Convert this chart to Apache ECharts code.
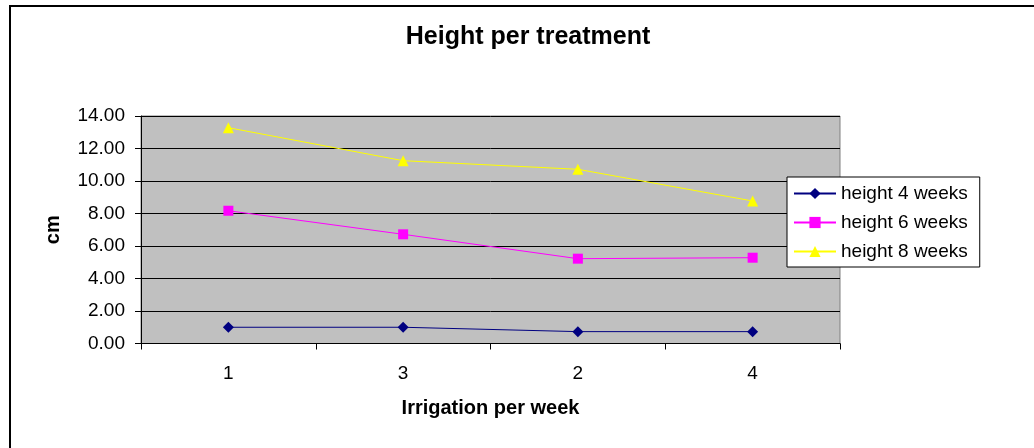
<!DOCTYPE html>
<html>
<head>
<meta charset="utf-8">
<style>
  html, body { margin: 0; padding: 0; background: #ffffff; }
  #chart { width: 1034px; height: 448px; }
</style>
<script src="https://cdn.jsdelivr.net/npm/echarts@6/dist/echarts.min.js"></script>
</head>
<body>
<div id="chart"></div>
<script>
// Irrigation frequency per week (category order as measured)
const categories = ['1', '3', '2', '4'];

// Mean plant height in cm at each measurement date
const height4Weeks = [1.00, 1.00, 0.73, 0.73];
const height6Weeks = [8.17, 6.72, 5.22, 5.28];
const height8Weeks = [13.28, 11.25, 10.72, 8.77];

const seriesNames = ['height 4 weeks', 'height 6 weeks', 'height 8 weeks'];

const FONT = 'Liberation Sans, Arial, sans-serif';

const chart = echarts.init(document.getElementById('chart'), null, { renderer: 'canvas' });

function lineSeries(name, data, color, symbol, size) {
  return {
    name: name,
    type: 'line',
    data: data,
    symbol: symbol,
    symbolSize: size,
    showAllSymbol: true,
    lineStyle: { color: color, width: 1 },
    itemStyle: { color: color, borderWidth: 0 },
    emphasis: { disabled: true },
    animation: false
  };
}

chart.setOption({
  animation: false,
  backgroundColor: '#ffffff',
  textStyle: { fontFamily: FONT, color: '#000' },
  graphic: [{
    type: 'rect',
    shape: { x: 10, y: 6, width: 1200, height: 800 },
    style: { fill: null, stroke: '#000', lineWidth: 2 },
    silent: true,
    z: -10
  }],
  title: {
    text: 'Height per treatment',
    left: 528,
    textAlign: 'center',
    top: 25,
    padding: 0,
    textStyle: { fontFamily: FONT, fontSize: 25, fontWeight: 'bold', color: '#000' }
  },
  legend: {
    orient: 'vertical',
    left: 787,
    top: 177,
    padding: [7, 12, 6, 6],
    itemGap: 10,
    itemWidth: 42,
    itemHeight: 14,
    backgroundColor: '#ffffff',
    borderColor: '#000',
    borderWidth: 1,
    borderRadius: 0,
    data: seriesNames,
    textStyle: { fontFamily: FONT, fontSize: 19, color: '#000', padding: [0, 0, 0, 0] },
    selectedMode: false
  },
  grid: {
    left: 141,
    top: 116,
    right: 194,
    bottom: 104.5,
    show: true,
    backgroundColor: '#c0c0c0',
    borderColor: '#808080',
    borderWidth: 1,
    containLabel: false
  },
  xAxis: {
    type: 'category',
    data: categories,
    boundaryGap: true,
    name: 'Irrigation per week',
    nameLocation: 'middle',
    nameGap: 55,
    nameTextStyle: { fontFamily: FONT, fontSize: 20, fontWeight: 'bold', color: '#000' },
    axisLine: { show: true, lineStyle: { color: '#000', width: 1 } },
    axisTick: { show: true, length: 6, alignWithLabel: false, lineStyle: { color: '#000' } },
    axisLabel: { fontFamily: FONT, fontSize: 19, color: '#000', margin: 21 },
    splitLine: { show: false }
  },
  yAxis: {
    type: 'value',
    min: 0,
    max: 14,
    interval: 2,
    name: 'cm',
    nameLocation: 'middle',
    nameGap: 78,
    nameRotate: 90,
    nameTextStyle: { fontFamily: FONT, fontSize: 20, fontWeight: 'bold', color: '#000' },
    axisLine: { show: true, lineStyle: { color: '#000', width: 1 } },
    axisTick: { show: true, length: 6, lineStyle: { color: '#000' } },
    axisLabel: {
      fontFamily: FONT, fontSize: 19, color: '#000', margin: 16,
      formatter: function (v) { return v.toFixed(2); }
    },
    splitLine: { show: true, lineStyle: { color: '#000', width: 1 } }
  },
  series: [
    lineSeries(seriesNames[0], height4Weeks, '#000080', 'diamond', 11),
    lineSeries(seriesNames[1], height6Weeks, '#ff00ff', 'rect', 10),
    lineSeries(seriesNames[2], height8Weeks, '#ffff00', 'triangle', 11)
  ]
});
</script>
</body>
</html>
